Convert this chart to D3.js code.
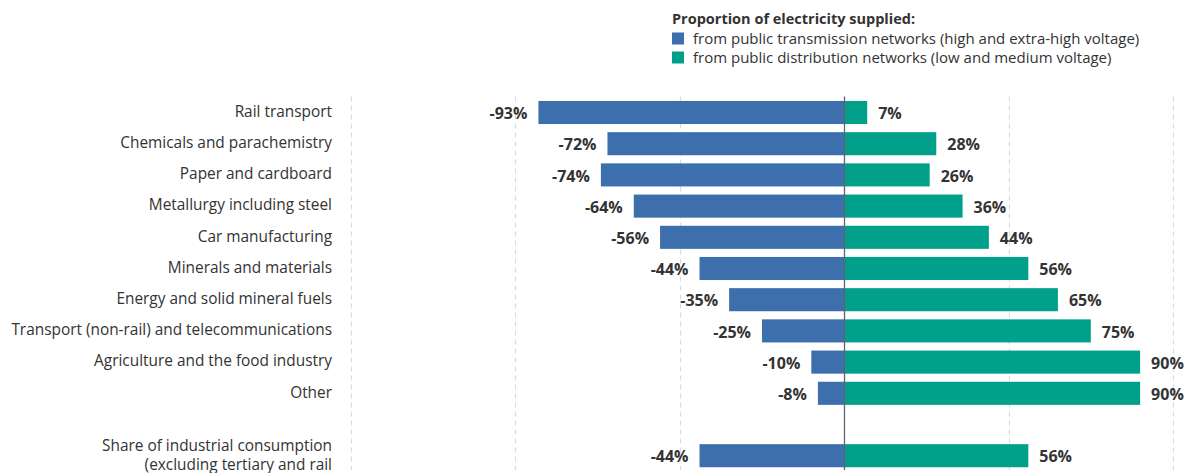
<!DOCTYPE html>
<html>
<head>
<meta charset="utf-8">
<script src="https://cdn.jsdelivr.net/npm/d3@7"></script>
<style>
  html, body { margin: 0; padding: 0; background: #fff; }
  svg { display: block; font-family: "Open Sans", Lato, sans-serif; }
</style>
</head>
<body>
<svg id="chart" width="1191" height="473"></svg>
<script>
// Sectors (top to bottom); an empty slot separates the overall share row
const categories = [
  "Rail transport",
  "Chemicals and parachemistry",
  "Paper and cardboard",
  "Metallurgy including steel",
  "Car manufacturing",
  "Minerals and materials",
  "Energy and solid mineral fuels",
  "Transport (non-rail) and telecommunications",
  "Agriculture and the food industry",
  "Other",
  "",
  "Share of industrial consumption (excluding tertiary and rail transport)"
];
const categoryLines = [
  ["Rail transport"],
  ["Chemicals and parachemistry"],
  ["Paper and cardboard"],
  ["Metallurgy including steel"],
  ["Car manufacturing"],
  ["Minerals and materials"],
  ["Energy and solid mineral fuels"],
  ["Transport (non-rail) and telecommunications"],
  ["Agriculture and the food industry"],
  ["Other"],
  [],
  ["Share of industrial consumption", "(excluding tertiary and rail", "transport)"]
];
// Share supplied by transmission networks (shown to the left, negative)
const transmission = [-93, -72, -74, -64, -56, -44, -35, -25, -10, -8, null, -44];
// Share supplied by distribution networks (shown to the right)
const distribution = [7, 28, 26, 36, 44, 56, 65, 75, 90, 90, null, 56];
const gridTicks = [-150, -100, -50, 50, 100];
const legendTitle = "Proportion of electricity supplied:";
const legendItems = [
  "from public transmission networks (high and extra-high voltage)",
  "from public distribution networks (low and medium voltage)"
];

const colors = { transmission: "#3d6fac", distribution: "#00a08b" };
const textColor = "#333";

const svg = d3.select("#chart");

const x = d3.scaleLinear().domain([-150, 100]).range([351, 1173]);
const y = d3.scaleBand()
  .domain(categories.map((c, i) => i))
  .range([96.9, 96.9 + 12 * 31.2])
  .paddingInner(0.26)
  .paddingOuter(0.13);

const lineTop = 96.5, lineBottom = 470;

// Dashed vertical grid
svg.append("g")
  .selectAll("line")
  .data(gridTicks)
  .join("line")
  .attr("x1", d => Math.round(x(d)) + 0.5)
  .attr("x2", d => Math.round(x(d)) + 0.5)
  .attr("y1", lineTop)
  .attr("y2", lineBottom)
  .attr("stroke", "#d7dbe2")
  .attr("stroke-width", 1.2)
  .attr("stroke-dasharray", "5,4");

const rows = categories.map((c, i) => ({ i, t: transmission[i], d: distribution[i] }))
  .filter(r => r.t !== null);

// Transmission bars
svg.append("g")
  .selectAll("rect")
  .data(rows)
  .join("rect")
  .attr("x", r => x(r.t))
  .attr("width", r => x(0) - x(r.t))
  .attr("y", r => y(r.i))
  .attr("height", y.bandwidth())
  .attr("fill", colors.transmission);

// Distribution bars
svg.append("g")
  .selectAll("rect")
  .data(rows)
  .join("rect")
  .attr("x", x(0))
  .attr("width", r => x(r.d) - x(0))
  .attr("y", r => y(r.i))
  .attr("height", y.bandwidth())
  .attr("fill", colors.distribution);

// Zero axis
svg.append("line")
  .attr("x1", Math.round(x(0)) + 0.5)
  .attr("x2", Math.round(x(0)) + 0.5)
  .attr("y1", lineTop)
  .attr("y2", lineBottom)
  .attr("stroke", "#5d6470")
  .attr("stroke-width", 1.3);

// Value labels
const labels = svg.append("g")
  .attr("font-size", 16)
  .attr("font-weight", 700)
  .attr("fill", textColor);

labels.selectAll("text.neg")
  .data(rows)
  .join("text")
  .attr("class", "neg")
  .attr("x", r => x(r.t) - 11)
  .attr("y", r => y(r.i) + y.bandwidth() / 2 + 1)
  .attr("dy", "0.35em")
  .attr("text-anchor", "end")
  .text(r => r.t + "%");

labels.selectAll("text.pos")
  .data(rows)
  .join("text")
  .attr("class", "pos")
  .attr("x", r => x(r.d) + 11)
  .attr("y", r => y(r.i) + y.bandwidth() / 2 + 1)
  .attr("dy", "0.35em")
  .attr("text-anchor", "start")
  .text(r => r.d + "%");

// Category labels
const cat = svg.append("g")
  .attr("font-size", 15.4)
  .attr("fill", textColor)
  .attr("text-anchor", "end");

categoryLines.forEach((lines, i) => {
  if (!lines.length) return;
  const cy = y(i) + y.bandwidth() / 2;
  const lh = 19;
  const y0 = lines.length > 1 ? cy - lh / 2 : cy;
  const t = cat.append("text")
    .attr("x", 332)
    .attr("y", y0 - 1);
  lines.forEach((ln, k) => {
    t.append("tspan").attr("x", 332).attr("dy", k === 0 ? "0.35em" : lh).text(ln);
  });
});

// Legend
const legend = svg.append("g").attr("fill", textColor);
legend.append("text")
  .attr("x", 672)
  .attr("y", 24)
  .attr("font-size", 14.5)
  .attr("font-weight", 700)
  .text(legendTitle);

const legendColors = [colors.transmission, colors.distribution];
legendItems.forEach((txt, k) => {
  const cy = 38.5 + k * 19;
  legend.append("rect")
    .attr("x", 672)
    .attr("y", cy - 6)
    .attr("width", 12)
    .attr("height", 12)
    .attr("fill", legendColors[k]);
  legend.append("text")
    .attr("x", 693)
    .attr("y", cy)
    .attr("dy", "0.35em")
    .attr("font-size", 15)
    .text(txt);
});
</script>
</body>
</html>
